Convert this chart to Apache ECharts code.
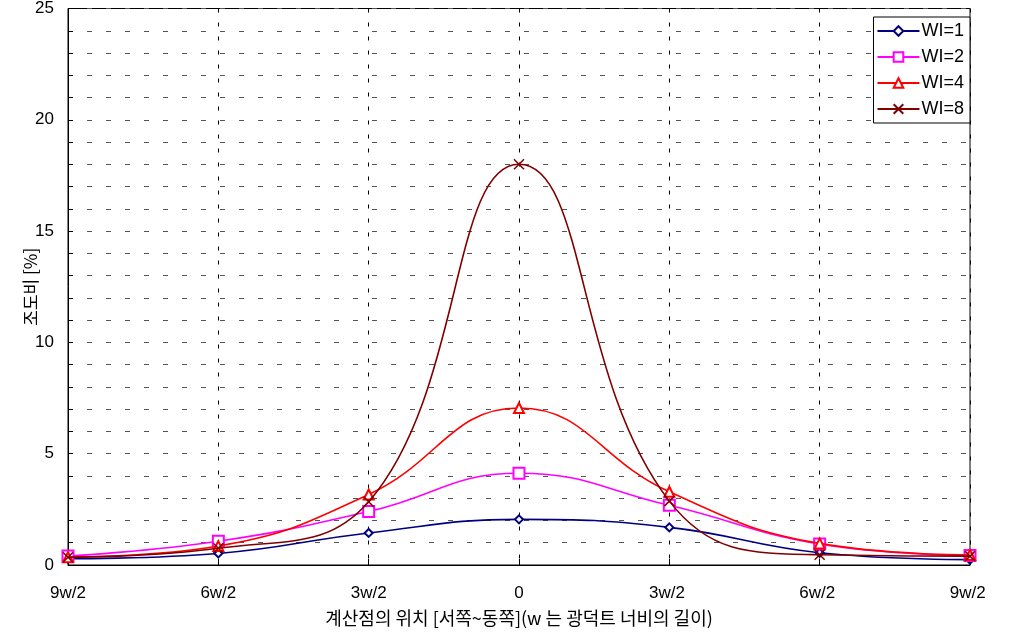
<!DOCTYPE html>
<html><head><meta charset="utf-8">
<script src="https://cdn.jsdelivr.net/npm/echarts@6/dist/echarts.min.js"></script>
<style>html,body{margin:0;padding:0;background:#fff}#c{width:1012px;height:636px}</style>
</head><body><div id="c"></div>
<script>
const categories = ['9w/2','6w/2','3w/2','0','3w/2 ','6w/2 ','9w/2 '];
const wi1 = [0.28, 0.52, 1.44, 2.05, 1.69, 0.55, 0.24];
const wi2 = [0.40, 1.07, 2.40, 4.12, 2.68, 0.94, 0.43];
const wi4 = [0.35, 0.85, 3.17, 7.05, 3.29, 0.97, 0.45];
const wi8 = [0.35, 0.75, 2.84, 18.0, 2.87, 0.46, 0.40];
const seriesNames = ['WI=1','WI=2','WI=4','WI=8'];
const yTicks = [0,5,10,15,20,25];

const xPath = 'path://M0,0L10,10M10,0L0,10';
const colors = ['#000080','#ff00ff','#ff0000','#800000'];
const symbols = ['emptyDiamond','emptyRect','emptyTriangle', xPath];
const sizes = [8,11,10,10];
const data = [wi1,wi2,wi4,wi8];

const chart = echarts.init(document.getElementById('c'), null, {renderer:'canvas'});
chart.setOption({
  animation:false,
  backgroundColor:'#fff',
  grid:{left:68,right:42,top:8,bottom:71,show:true,borderColor:'#000',borderWidth:1,backgroundColor:'transparent'},
  legend:{
    right:42, top:17, orient:'vertical', itemGap:8, itemWidth:42, itemHeight:12,
    padding:[5,6,5,3],
    borderColor:'#000', borderWidth:1, backgroundColor:'#fff',
    textStyle:{fontFamily:'Liberation Sans, Arial, sans-serif', fontSize:18, color:'#000', padding:[0,0,0,-3]},
    data: seriesNames
  },
  xAxis:{
    type:'category', data:categories, boundaryGap:false,
    axisLine:{lineStyle:{color:'#000',width:1}},
    axisTick:{inside:true,length:6,lineStyle:{color:'#000'}},
    axisLabel:{margin:20,color:'#000',fontSize:17,fontFamily:'Liberation Sans Narrow, Liberation Sans, Arial, sans-serif'},
    splitLine:{show:true,lineStyle:{color:'#000',type:[4,10],width:1}},
    name:'계산점의 위치 [서쪽~동쪽](w 는 광덕트 너비의 길이)',
    nameLocation:'middle', nameGap:44, nameMoveOverlap:false,
    nameTextStyle:{fontFamily:'Noto Sans CJK KR, sans-serif',fontSize:18,color:'#000'}
  },
  yAxis:{
    type:'value', min:0, max:25, interval:1,
    axisLine:{show:true,lineStyle:{color:'#000',width:1}},
    axisTick:{show:true,inside:true,length:5,lineStyle:{color:'#000'}},
    axisLabel:{color:'#000',fontSize:17,margin:14,fontFamily:'Liberation Sans, Arial, sans-serif',
      formatter:function(v){return yTicks.indexOf(v)>=0 ? String(v) : '';}},
    splitLine:{show:true,lineStyle:{color:'#555',type:[5,14],width:1}},
    name:'조도비 [%]', nameLocation:'middle', nameGap:29, nameRotate:90, nameMoveOverlap:false,
    nameTextStyle:{fontFamily:'Noto Sans CJK KR, sans-serif',fontSize:17,color:'#000'}
  },
  series: seriesNames.map((n,i)=>({
    name:n, type:'line', data:data[i], smooth:0.45,
    symbol:symbols[i], symbolSize:sizes[i], showSymbol:true,
    lineStyle:{color:colors[i],width:1.6},
    itemStyle:{color: i===3 ? 'none' : colors[i], borderColor:colors[i], borderWidth:1.5},
    z: 2+i
  }))
});
</script></body></html>
